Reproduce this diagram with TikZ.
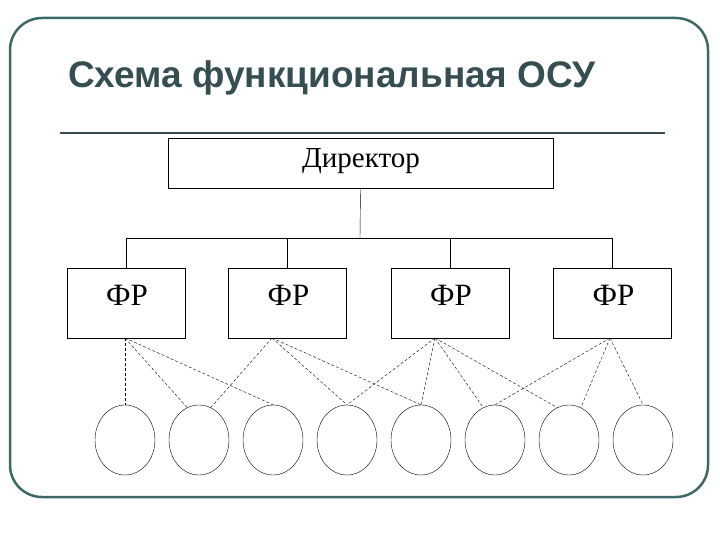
\documentclass[tikz,border=0pt]{standalone}
\usepackage{fontspec}
\setmainfont{Liberation Serif}
\newfontfamily\titlefont{Liberation Sans}
\usetikzlibrary{shapes.geometric}
\definecolor{frame}{RGB}{62,104,104}
\definecolor{ttl}{RGB}{52,78,82}
\begin{document}
\begin{tikzpicture}[x=1pt,y=-1pt,
  box/.style={draw,thick,minimum height=50pt,inner sep=0pt},
  frbox/.style={draw,thick,minimum width=118pt,minimum height=70pt,inner sep=0pt},
  oval/.style={draw,ellipse,minimum width=60pt,minimum height=70pt,inner sep=0pt},
  link/.style={dashed,dash pattern=on 3pt off 2pt}]
\useasboundingbox (0,0) rectangle (720,540);
\draw[frame,line width=2.5pt,rounded corners=32pt] (10,18) rectangle (708,497);
\node[anchor=west,text=ttl,inner sep=0pt,font=\titlefont\bfseries\fontsize{37}{40}\selectfont] (t) at (68,78) {Схема функциональная ОСУ};
\draw[line width=2pt,ttl] (60,133) coordinate (l1) -- (665,133) coordinate (l2);
\node[box,minimum width=385pt] (d) at (360.5,163) {};
\node[font=\fontsize{29}{32}\selectfont] (dt) at (361,161) {Директор};
\foreach \i/\x in {1/126,2/287.5,3/450,4/612.5}{
  \node[frbox] (f\i) at (\x,303) {};
  \node[font=\fontsize{31}{34}\selectfont,anchor=west,inner sep=0pt] (ft\i) at (\x-20,295) {ФР};
  \coordinate (b\i) at (\x,238);
}
\draw (d.south) -- (360,238);
\draw (b1) -- (b4);
\foreach \i in {1,...,4}{\draw (b\i) -- (f\i.north);}
\foreach \i/\x in {1/125,2/199,3/273,4/347,5/421,6/495,7/569,8/643}{
  \node[oval] (c\i) at (\x,440) {};
}
\coordinate (p1) at (125,338);
\coordinate (p2) at (272,338);
\coordinate (p3) at (435,338);
\coordinate (p4) at (610,338);
\draw[link] (p1) -- (c1.north);
\draw[link] (p1) -- (c2.110);
\draw[link] (p1) -- (c3.north);
\draw[link] (p2) -- (c2.70);
\draw[link] (p2) -- (c4.north);
\draw[link] (p2) -- (c5.north);
\draw[link] (p3) -- (c4.north);
\draw[link] (p3) -- (c5.north);
\draw[link] (p3) -- (c6.110);
\draw[link] (p3) -- (c7.110);
\draw[link] (p4) -- (c6.north);
\draw[link] (p4) -- (c7.70);
\draw[link] (p4) -- (c8.north);
\end{tikzpicture}
\end{document}
